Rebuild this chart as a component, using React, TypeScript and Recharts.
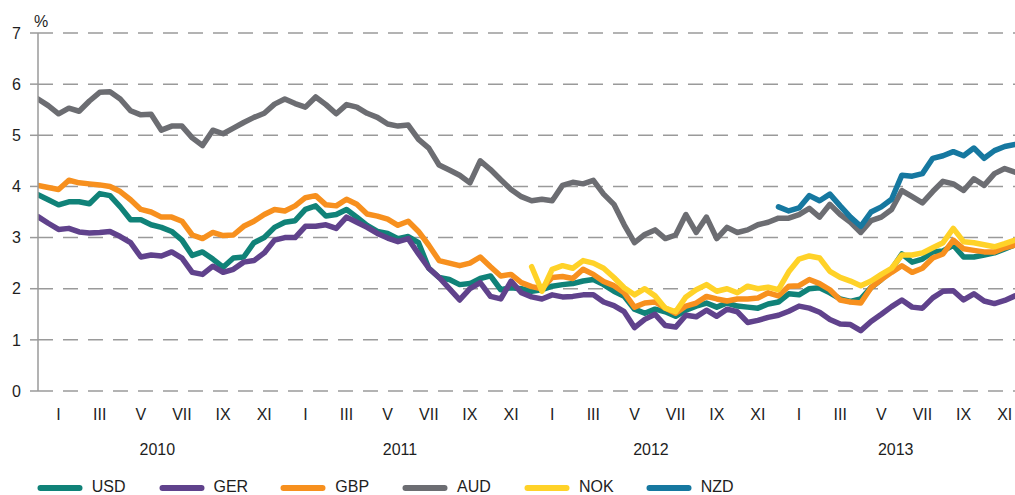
import React from 'react';
import { LineChart, Line, XAxis, YAxis, CartesianGrid, Legend, Label } from 'recharts';

// x position in months since 1 Jan 2010, sampled every half month
const MONTHS: number[] = Array.from({ length: 96 }, (_, i) => i / 2);

const USD = [
  3.84, 3.74, 3.64, 3.70, 3.70, 3.66, 3.86, 3.82, 3.60, 3.35, 3.35, 3.25, 3.20, 3.12, 2.95, 2.65, 2.72, 2.58, 2.42, 2.60, 2.62, 2.90, 3.00, 3.20,
  3.30, 3.33, 3.55, 3.62, 3.42, 3.45, 3.55, 3.40, 3.24, 3.12, 3.08, 2.98, 3.02, 2.90, 2.40, 2.22, 2.18, 2.08, 2.10, 2.20, 2.25, 1.98, 2.02, 2.00,
  1.95, 1.98, 2.05, 2.08, 2.10, 2.15, 2.18, 2.08, 1.95, 1.85, 1.60, 1.52, 1.60, 1.55, 1.46, 1.58, 1.66, 1.72, 1.64, 1.72, 1.66, 1.64, 1.62, 1.70,
  1.74, 1.90, 1.88, 2.00, 2.02, 1.92, 1.80, 1.75, 1.80, 2.02, 2.18, 2.38, 2.68, 2.52, 2.58, 2.72, 2.74, 2.85, 2.62, 2.62, 2.66, 2.70, 2.78, 2.86,
];

const GER = [
  3.41, 3.28, 3.16, 3.18, 3.11, 3.09, 3.10, 3.12, 3.02, 2.90, 2.62, 2.66, 2.64, 2.72, 2.60, 2.32, 2.28, 2.44, 2.32, 2.38, 2.52, 2.55, 2.70, 2.95,
  3.00, 3.00, 3.22, 3.22, 3.25, 3.18, 3.40, 3.30, 3.20, 3.08, 2.99, 2.92, 2.98, 2.68, 2.40, 2.22, 2.00, 1.78, 2.00, 2.12, 1.85, 1.80, 2.15, 1.92,
  1.84, 1.80, 1.88, 1.84, 1.85, 1.88, 1.88, 1.74, 1.67, 1.55, 1.24, 1.40, 1.50, 1.28, 1.25, 1.48, 1.45, 1.58, 1.46, 1.60, 1.55, 1.34, 1.38, 1.44,
  1.48, 1.56, 1.66, 1.62, 1.54, 1.40, 1.31, 1.30, 1.18, 1.36, 1.50, 1.65, 1.78, 1.64, 1.62, 1.82, 1.95, 1.96, 1.78, 1.90, 1.76, 1.71, 1.77, 1.86,
];

const GBP = [
  4.02, 3.98, 3.94, 4.12, 4.07, 4.05, 4.03, 4.00, 3.90, 3.74, 3.55, 3.50, 3.40, 3.40, 3.32, 3.05, 2.98, 3.10, 3.04, 3.05, 3.22, 3.32, 3.45, 3.55,
  3.52, 3.62, 3.78, 3.82, 3.64, 3.62, 3.75, 3.65, 3.46, 3.42, 3.36, 3.24, 3.32, 3.12, 2.85, 2.55, 2.50, 2.45, 2.50, 2.62, 2.43, 2.25, 2.28, 2.12,
  2.04, 2.00, 2.22, 2.24, 2.20, 2.38, 2.28, 2.14, 2.06, 1.92, 1.64, 1.72, 1.74, 1.62, 1.52, 1.66, 1.72, 1.85, 1.80, 1.76, 1.80, 1.80, 1.82, 1.92,
  1.86, 2.05, 2.06, 2.18, 2.10, 1.98, 1.78, 1.74, 1.72, 2.02, 2.18, 2.32, 2.45, 2.32, 2.40, 2.60, 2.68, 2.95, 2.78, 2.75, 2.72, 2.72, 2.80, 2.85,
];

const AUD = [
  5.71, 5.58, 5.42, 5.53, 5.47, 5.67, 5.84, 5.85, 5.71, 5.48, 5.40, 5.41, 5.10, 5.18, 5.18, 4.95, 4.80, 5.10, 5.03, 5.14, 5.25, 5.35, 5.43, 5.61,
  5.71, 5.62, 5.55, 5.75, 5.60, 5.42, 5.60, 5.55, 5.43, 5.35, 5.22, 5.18, 5.20, 4.92, 4.75, 4.42, 4.32, 4.22, 4.07, 4.50, 4.33, 4.13, 3.94, 3.80,
  3.72, 3.75, 3.72, 4.02, 4.08, 4.05, 4.12, 3.85, 3.65, 3.25, 2.90, 3.06, 3.15, 2.98, 3.05, 3.45, 3.10, 3.40, 2.98, 3.20, 3.10, 3.15, 3.25, 3.30,
  3.38, 3.38, 3.45, 3.57, 3.40, 3.65, 3.45, 3.30, 3.10, 3.33, 3.40, 3.55, 3.92, 3.80, 3.68, 3.90, 4.10, 4.05, 3.92, 4.15, 4.02, 4.25, 4.35, 4.28,
];

// NOK starts January 2012, NZD starts January 2013
const NOK_START = 48;
const NOK = [
  2.43, 1.95, 2.38, 2.45, 2.40, 2.55, 2.50, 2.40, 2.22, 2.02, 1.88, 2.00, 1.86, 1.62, 1.55, 1.84, 1.98, 2.08, 1.95, 2.00, 1.92, 2.05, 2.00, 2.03,
  1.98, 2.33, 2.58, 2.64, 2.60, 2.34, 2.22, 2.15, 2.06, 2.15, 2.28, 2.40, 2.66, 2.66, 2.70, 2.80, 2.90, 3.18, 2.92, 2.90, 2.86, 2.82, 2.88, 2.95,
];
const NZD_START = 72;
const NZD = [
  3.60, 3.52, 3.58, 3.82, 3.72, 3.85, 3.62, 3.40, 3.22, 3.50, 3.60, 3.75, 4.22, 4.20, 4.25, 4.55, 4.60, 4.68, 4.60, 4.75, 4.55, 4.70, 4.78, 4.82,
];

const X_MAX = 47.5;
const TICK_MARKS = [0, 2, 4, 6, 8, 10, 12, 14, 16, 18, 20, 22, 24, 26, 28, 30, 32, 34, 36, 38, 40, 42, 44, 46];
const MONTH_TICKS = [1, 3, 5, 7, 9, 11, 13, 15, 17, 19, 21, 23, 25, 27, 29, 31, 33, 35, 37, 39, 41, 43, 45, 47];
const MONTH_LABELS = ['I', 'III', 'V', 'VII', 'IX', 'XI'];
const YEAR_TICKS = [5.8, 17.6, 29.8, 41.7];
const YEAR_LABELS = ['2010', '2011', '2012', '2013'];
const Y_TICKS = [0, 1, 2, 3, 4, 5, 6, 7];

const SERIES = [
  { key: 'USD', color: '#108278' },
  { key: 'GER', color: '#60428c' },
  { key: 'GBP', color: '#f7901e' },
  { key: 'AUD', color: '#6c6d72' },
  { key: 'NOK', color: '#ffd228' },
  { key: 'NZD', color: '#1678a0' },
];

const data = MONTHS.map((m, i) => ({
  m,
  USD: USD[i],
  GER: GER[i],
  GBP: GBP[i],
  AUD: AUD[i],
  NOK: i >= NOK_START ? NOK[i - NOK_START] : null,
  NZD: i >= NZD_START ? NZD[i - NZD_START] : null,
}));

const FONT = '"Liberation Sans", Arial, sans-serif';
const TEXT = '#1e1e1e';
const AXIS = '#9a9a9a';

const EmptyTick = () => <g />;

const MonthTick = (props: any) => {
  const { x, y, payload } = props;
  const idx = MONTH_TICKS.indexOf(payload.value);
  const label = MONTH_LABELS[((idx % 6) + 6) % 6];
  return (
    <text x={x} y={y + 29} textAnchor="middle" fontFamily={FONT} fontSize={16} fill={TEXT}>
      {label}
    </text>
  );
};

const YearTick = (props: any) => {
  const { x, y, payload } = props;
  const idx = YEAR_TICKS.indexOf(payload.value);
  return (
    <text x={x} y={y + 24} textAnchor="middle" fontFamily={FONT} fontSize={16} fill={TEXT}>
      {YEAR_LABELS[idx]}
    </text>
  );
};

const PctLabel = (props: any) => {
  const vb = props.viewBox || { x: 8, y: 33, width: 30 };
  return (
    <text x={vb.x + vb.width + 3} y={vb.y - 6} textAnchor="middle" fontFamily={FONT} fontSize={16} fill={TEXT}>
      %
    </text>
  );
};

const LegendContent = () => (
  <div style={{ position: 'relative', height: 24, width: 900, fontFamily: FONT, fontSize: 16, color: TEXT }}>
    {SERIES.map((s, i) => (
      <div key={s.key} style={{ position: 'absolute', left: 36.7 + i * 121.8, top: 0, height: 24, width: 120 }}>
        <svg width={46} height={10} style={{ position: 'absolute', left: 0, top: 12 }}>
          <line x1={3.5} y1={5} x2={42.5} y2={5} stroke={s.color} strokeWidth={6} strokeLinecap="round" />
        </svg>
        <span style={{ position: 'absolute', left: 55, top: 7, lineHeight: '18px', whiteSpace: 'nowrap' }}>{s.key}</span>
      </div>
    ))}
  </div>
);

export default function App() {
  return (
    <div style={{ position: 'absolute', left: 0, top: 0, width: 1015, height: 495, overflow: 'hidden', background: '#ffffff' }}>
      <LineChart width={1015} height={495} data={data} margin={{ top: 33, right: 0, bottom: 0, left: 8 }}>
        <CartesianGrid
          vertical={false}
          horizontal={{ strokeDashoffset: 8 } as any}
          stroke={AXIS}
          strokeWidth={1.5}
          strokeDasharray="15 10"
        />
        <XAxis
          xAxisId="main"
          dataKey="m"
          type="number"
          domain={[0, X_MAX]}
          ticks={TICK_MARKS}
          interval={0}
          allowDataOverflow
          height={0}
          tickSize={6}
          tick={EmptyTick}
          axisLine={{ stroke: AXIS, strokeWidth: 1.5 }}
          tickLine={{ stroke: AXIS, strokeWidth: 1.2 }}
        />
        <XAxis
          xAxisId="months"
          dataKey="m"
          type="number"
          domain={[0, X_MAX]}
          ticks={MONTH_TICKS}
          interval={0}
          allowDataOverflow
          height={40}
          tickSize={0}
          tickMargin={0}
          axisLine={false}
          tickLine={false}
          tick={<MonthTick />}
        />
        <XAxis
          xAxisId="years"
          dataKey="m"
          type="number"
          domain={[0, X_MAX]}
          ticks={YEAR_TICKS}
          interval={0}
          allowDataOverflow
          height={40}
          tickSize={0}
          tickMargin={0}
          axisLine={false}
          tickLine={false}
          tick={<YearTick />}
        />
        <YAxis
          domain={[0, 7]}
          ticks={Y_TICKS}
          interval={0}
          allowDataOverflow
          width={30}
          tickSize={8}
          tickMargin={9}
          axisLine={{ stroke: AXIS, strokeWidth: 1.5 }}
          tickLine={{ stroke: AXIS, strokeWidth: 1.5 }}
          tick={{ fontFamily: FONT, fontSize: 16, fill: TEXT }}
        >
          <Label position="top" content={PctLabel} />
        </YAxis>
        <Legend verticalAlign="bottom" align="left" content={LegendContent} wrapperStyle={{ left: 0, bottom: 0, height: 24 }} />
        {SERIES.map((s) => (
          <Line
            key={s.key}
            xAxisId="main"
            dataKey={s.key}
            type="linear"
            stroke={s.color}
            strokeWidth={5.5}
            strokeLinejoin="round"
            strokeLinecap="round"
            dot={false}
            activeDot={false}
            connectNulls={false}
            isAnimationActive={false}
          />
        ))}
      </LineChart>
    </div>
  );
}
